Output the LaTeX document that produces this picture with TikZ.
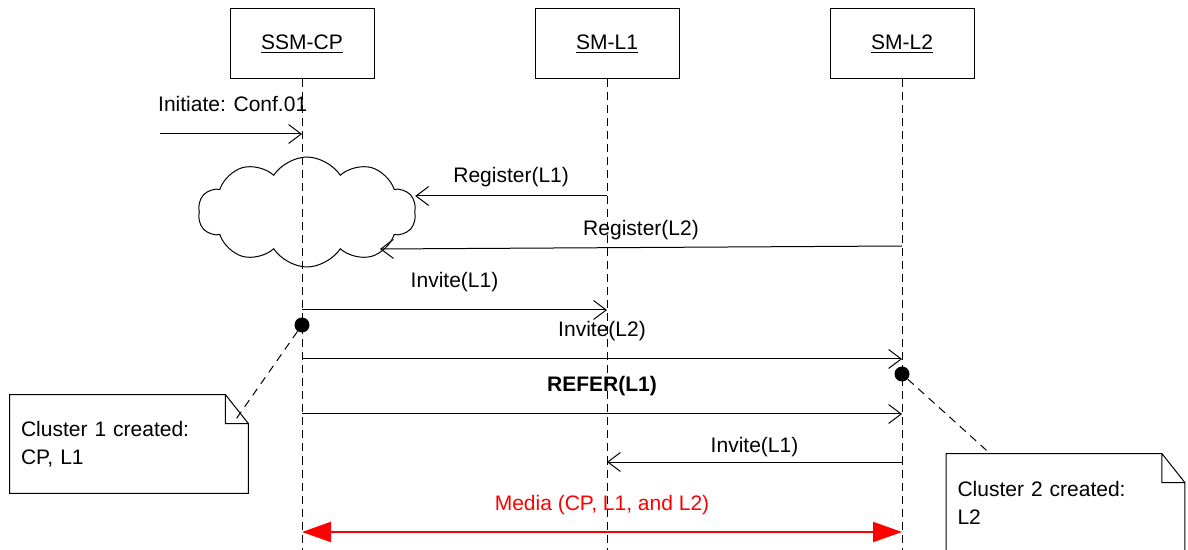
\documentclass[tikz,border=0pt]{standalone}
\usepackage{fontspec}
\setmainfont{Liberation Sans}
\usetikzlibrary{arrows.meta,shapes.symbols,positioning}

\begin{document}
\begin{tikzpicture}
   [
      x=0.5pt, y=-0.5pt,
      font=\fontsize{10.5}{14}\selectfont,
      >={Straight Barb[length=6.3pt, width=9.5pt]},
      entity/.style={rectangle, draw, line width=0.5pt, minimum width=72pt,
      minimum height=35pt, inner sep=0pt},
      lifeline/.style={line width=0.5pt, dash pattern=on 4pt off 2.5pt},
      msg/.style={->, line width=0.5pt},
      media/.style={red, line width=1pt,
      {Triangle[length=14.5pt, width=10pt]}-{Triangle[length=14.5pt, width=10pt]}},
      event/.style={circle, fill, inner sep=0pt, minimum size=7.5pt},
      note/.style={rectangle, inner xsep=5.5pt, inner ysep=0pt, minimum width=119pt,
      minimum height=49pt, text width=108pt, align=left},
      link/.style={line width=0.5pt, dash pattern=on 4pt off 3pt}
   ]
   \path[use as bounding box, clip] (0,0) rectangle (1188,550);

   \foreach \name/\txt/\x in {cp/SSM-CP/302, l1/SM-L1/607, l2/SM-L2/902} {
      \node[entity] (\name) at (\x,44) {\underline{\txt}};
      \coordinate (\name-end) at (\x,550);
      \draw[lifeline] (\name) -- (\name-end);
   }

   \node[cloud, draw, line width=0.5pt, cloud puffs=10, cloud puff arc=115,
      cloud ignores aspect, minimum width=109pt, minimum height=55pt,
      inner sep=0pt] (pool) at (307,212) {};

   \coordinate (init) at (160,134);
   \draw[msg] (init) -- (cp |- init)
      node[at start, anchor=base west, xshift=-4.5pt, yshift=11pt] {Initiate: Conf.01};

   \draw[msg] (l1 |- 0,196) -- (pool.east |- 0,196)
      node[midway, anchor=base, yshift=6.5pt] {Register(L1)};
   \coordinate (reg2) at (380,249);
   \draw[msg] (l2 |- 0,246) -- (reg2)
      node[midway, anchor=base, yshift=6pt] {Register(L2)};

   \foreach \from/\to/\y/\gap/\txt in {cp/l1/310/11/Invite(L1),
      cp/l2/359/11/Invite(L2), cp/l2/414/11/\textbf{REFER(L1)},
      l2/l1/462/5/Invite(L1)}
      \draw[msg] (\from |- 0,\y) -- (\to |- 0,\y)
         node[midway, anchor=base, yshift=\gap pt] {\txt};

   \draw[media] (cp |- 0,532) -- (l2 |- 0,532)
      node[midway, anchor=base, yshift=11pt] {Media (CP, L1, and L2)};

   \node[event] (born1) at (cp |- 0,325) {};
   \node[event] (born2) at (l2 |- 0,374) {};

   \node[note] (note1) at (129,444) {Cluster 1 created:\\CP, L1};
   \node[note] (note2) at (1065.5,503) {Cluster 2 created:\\L2};

   \foreach \n in {note1,note2}
      \draw[line width=0.5pt] (\n.north west) -- ([xshift=-11.5pt]\n.north east)
         -- ([yshift=-14.5pt]\n.north east) -- (\n.south east) -- (\n.south west)
         -- cycle
         ([xshift=-11.5pt]\n.north east) |- ([yshift=-14.5pt]\n.north east);

   \draw[link] (born1) -- ([xshift=-6pt, yshift=-12pt]note1.north east);
   \draw[link] (born2) -- ([xshift=22pt]note2.north west);
\end{tikzpicture}
\end{document}
